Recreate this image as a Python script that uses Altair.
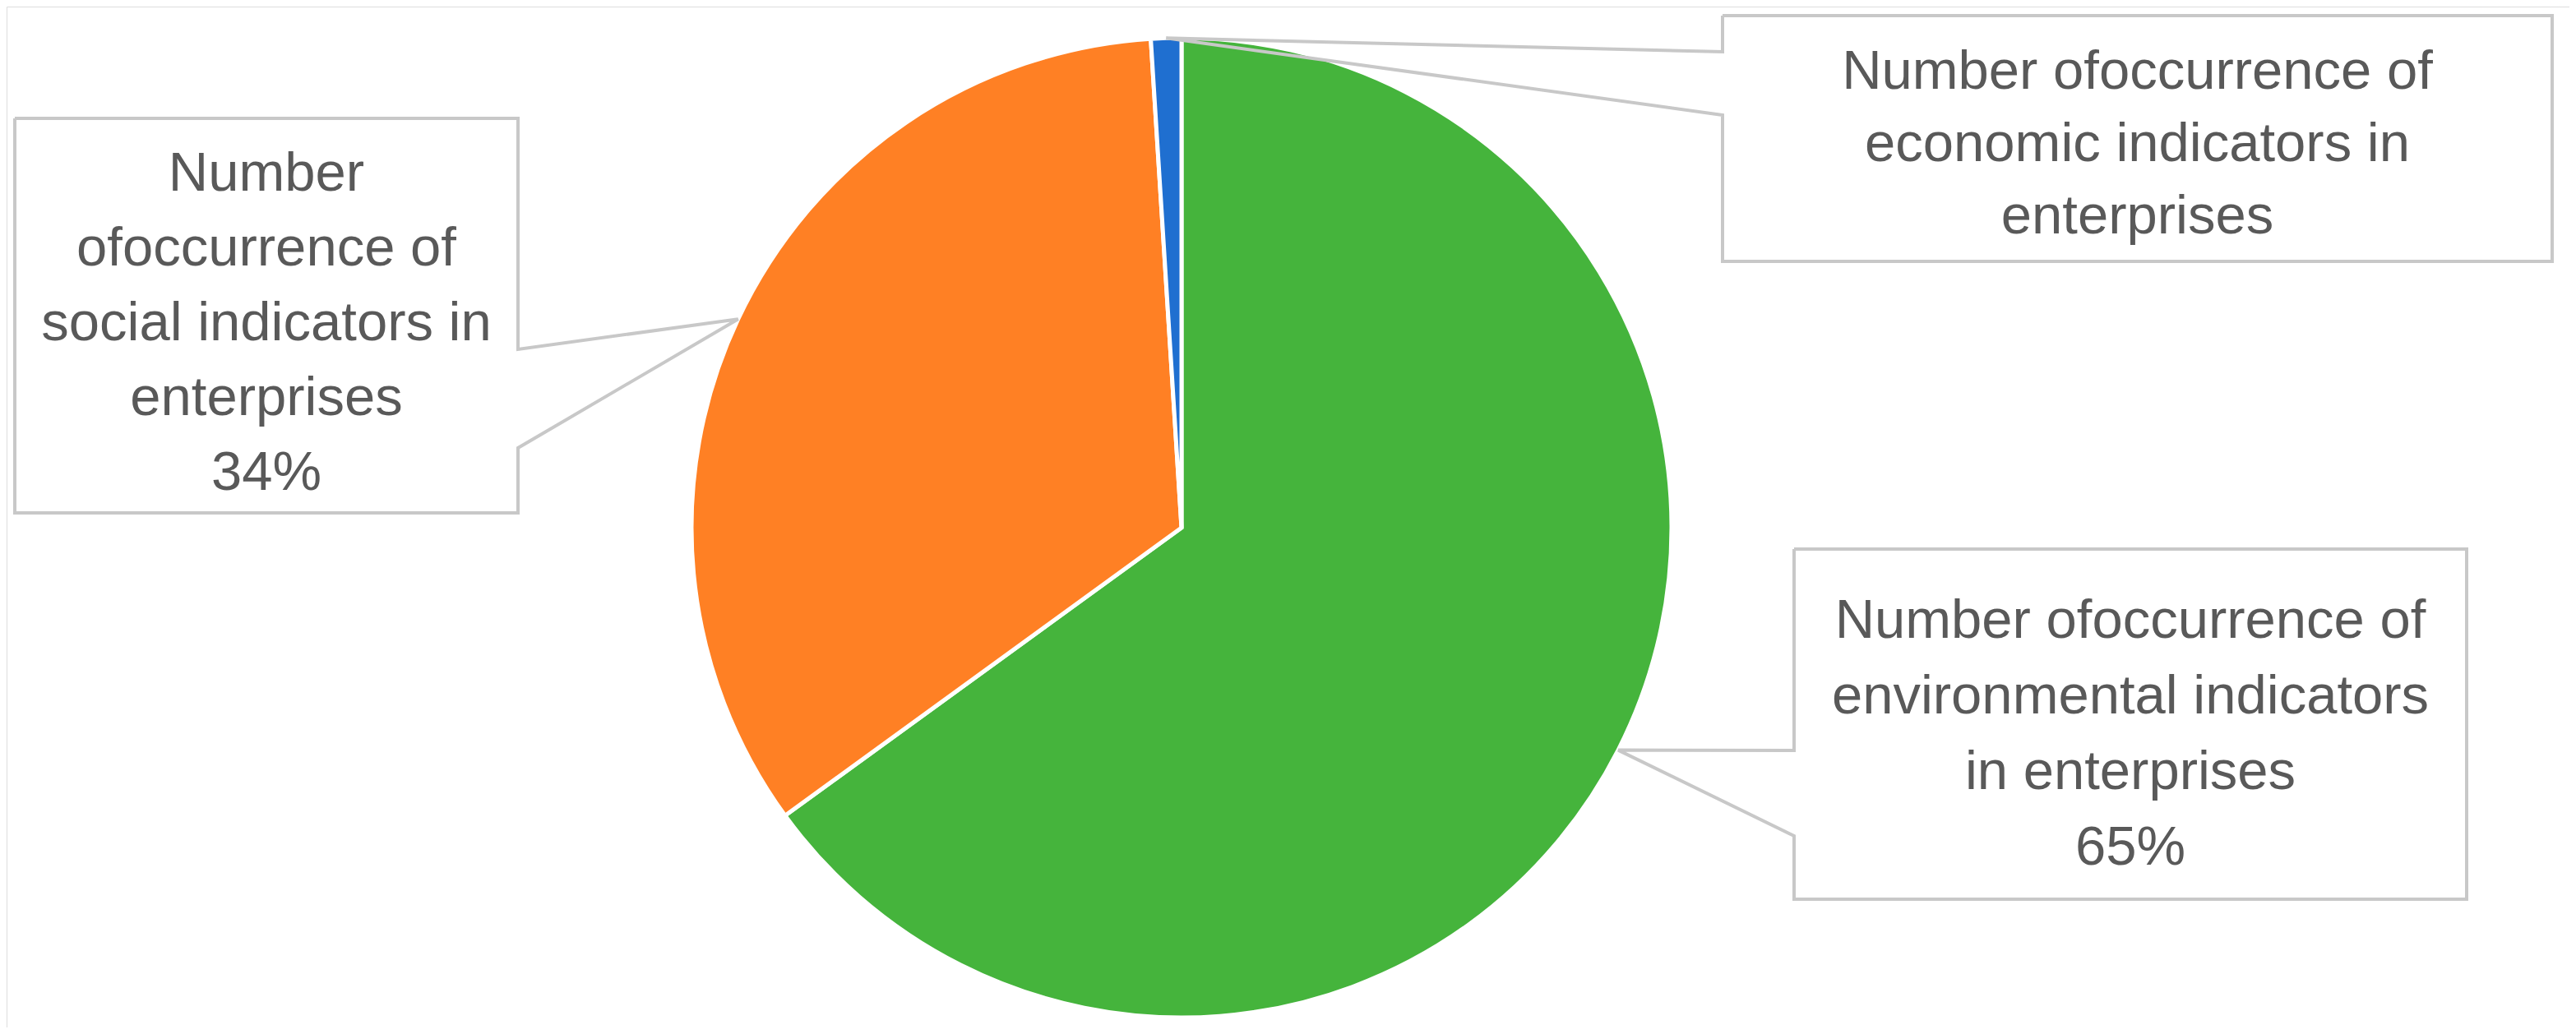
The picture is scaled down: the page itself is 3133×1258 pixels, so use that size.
import math
import altair as alt
import pandas as pd

# ---------------- data ----------------
categories = ["environmental", "social", "economic"]
values = [65, 34, 1]
colors = ["#45B43C", "#FF8024", "#1F6FD0"]
label_texts = [
    "Number ofoccurrence of\nenvironmental indicators\nin enterprises\n65%",
    "Number\nofoccurrence of\nsocial indicators in\nenterprises\n34%",
    "Number ofoccurrence of\neconomic indicators in\nenterprises",
]

# ---------------- layout (page pixel coordinates) ----------------
W, H = 3133, 1258
M = 8
CX, CY, R = 1437, 642, 596
# box: left, top, right, bottom, attached side, attach y1, attach y2, first baseline, line height
boxes = [
    (2182, 668, 3000, 1094, "left", 913, 1017, 776, 92),
    (18, 144, 630, 624, "right", 425, 545, 232, 91),
    (2095, 19, 3104, 318, "left", 63, 140, 108, 88),
]
FONT = "Liberation Sans"
FONT_SIZE = 67
TEXT_COLOR = "#595959"
LINE_COLOR = "#C8C8C8"

# pie data
pie_df = pd.DataFrame({"cat": categories, "value": values, "idx": list(range(len(values)))})

# anchors at mid-angle on the pie edge
total = sum(values)
cum = 0
anchors = []
for v in values:
    mid = (cum + v / 2) / total * 2 * math.pi
    anchors.append((CX + R * math.sin(mid), CY - R * math.cos(mid)))
    cum += v

# callout polygons
rows = []
for g, (b, a) in enumerate(zip(boxes, anchors)):
    l, t, r, btm, side, y1, y2, _, _ = b
    if side == "left":
        pts = [(l, t), (r, t), (r, btm), (l, btm), (l, y2), a, (l, y1), (l, t)]
    else:
        pts = [(l, t), (r, t), (r, y1), a, (r, y2), (r, btm), (l, btm), (l, t)]
    for k, (px, py) in enumerate(pts):
        rows.append({"g": g, "k": k, "x": px, "y": py})
poly_df = pd.DataFrame(rows)

text_df = pd.DataFrame({
    "x": [(b[0] + b[2]) / 2 for b in boxes],
    "y": [b[7] for b in boxes],
    "lh": [b[8] for b in boxes],
    "text": label_texts,
})

xs = alt.Scale(domain=[M, W - M], range=[0, W - 2 * M], nice=False, zero=False)
ys = alt.Scale(domain=[H - M, M], nice=False, zero=False)

pie = alt.Chart(pie_df).mark_arc(radius=R, stroke="white", strokeWidth=5).encode(
    theta=alt.Theta("value:Q", stack=True),
    order=alt.Order("idx:Q"),
    color=alt.Color("cat:N", scale=alt.Scale(domain=categories, range=colors), legend=None),
    x=alt.datum(CX, scale=xs, axis=None),
    y=alt.datum(CY, scale=ys, axis=None),
)

callouts = alt.Chart(poly_df).mark_line(
    color=LINE_COLOR, strokeWidth=4, strokeJoin="miter"
).encode(
    x=alt.X("x:Q", scale=xs, axis=None),
    y=alt.Y("y:Q", scale=ys, axis=None),
    detail="g:N",
    order="k:Q",
)

layers = [pie, callouts]
for i in range(len(text_df)):
    sub = text_df.iloc[[i]]
    layers.append(
        alt.Chart(sub).mark_text(
            font=FONT, fontSize=FONT_SIZE, color=TEXT_COLOR, align="center",
            baseline="alphabetic", lineBreak="\n", lineHeight=float(sub["lh"].iloc[0]),
        ).encode(
            x=alt.X("x:Q", scale=xs, axis=None),
            y=alt.Y("y:Q", scale=ys, axis=None),
            text="text:N",
        )
    )

chart = alt.layer(*layers).properties(
    width=W - 2 * M, height=H - 2 * M,
    autosize=alt.AutoSizeParams(type="none"), padding=0,
).configure_view(strokeWidth=0).configure(background="white")

chart.save("out.html", embed_options={"renderer": "svg", "actions": False})
